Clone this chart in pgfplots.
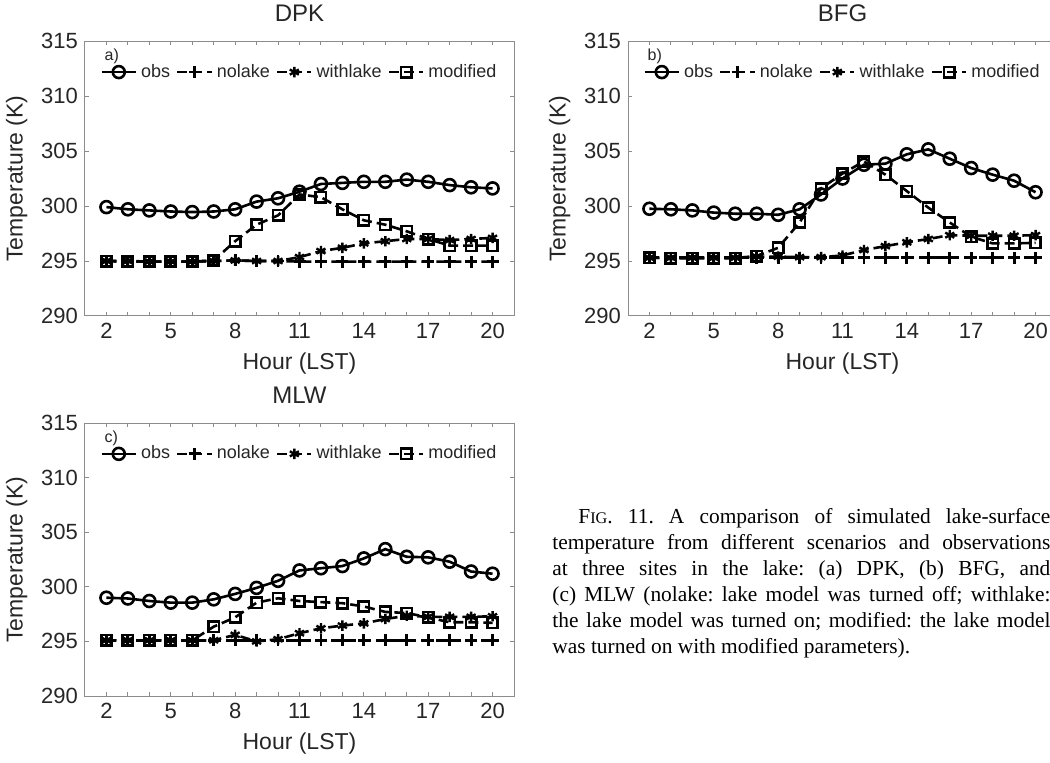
\documentclass[border=0pt]{standalone}
\usepackage{pgfplots}
\usepackage{pgfplotstable}
\pgfplotsset{compat=1.18}
\usepackage{fontspec}
\setmainfont{Liberation Sans}
\newfontfamily\capfont{Liberation Serif}

\pgfplotstableread{
h obs nolake withlake modified
2 299.9 295.0 295.0 295.0
3 299.7 294.95 295.0 294.95
4 299.6 294.95 294.95 294.95
5 299.5 294.95 294.95 294.95
6 299.45 294.95 294.95 294.95
7 299.5 295.0 295.0 295.05
8 299.7 295.05 295.05 296.8
9 300.4 295.0 295.0 298.3
10 300.7 295.0 295.0 299.15
11 301.3 294.95 295.35 301.05
12 302.0 294.95 295.9 300.8
13 302.1 294.95 296.2 299.7
14 302.2 294.95 296.6 298.7
15 302.2 294.95 296.8 298.3
16 302.4 294.95 297.0 297.7
17 302.2 294.95 297.0 297.0
18 301.9 294.95 296.9 296.4
19 301.7 294.95 297.0 296.4
20 301.6 294.95 297.1 296.4
}\dpk

\pgfplotstableread{
h obs nolake withlake modified
2 299.75 295.3 295.3 295.3
3 299.7 295.3 295.3 295.25
4 299.6 295.3 295.3 295.25
5 299.4 295.3 295.3 295.25
6 299.3 295.3 295.3 295.25
7 299.3 295.3 295.4 295.45
8 299.2 295.3 295.4 296.2
9 299.7 295.3 295.35 298.5
10 301.05 295.3 295.35 301.6
11 302.5 295.3 295.5 302.95
12 303.75 295.3 296.0 304.05
13 303.85 295.3 296.35 302.85
14 304.7 295.3 296.7 301.35
15 305.15 295.3 297.0 299.85
16 304.3 295.3 297.35 298.5
17 303.45 295.3 297.3 297.2
18 302.85 295.3 297.3 296.6
19 302.3 295.3 297.3 296.6
20 301.25 295.3 297.35 296.65
}\bfg

\pgfplotstableread{
h obs nolake withlake modified
2 299.0 295.1 295.1 295.1
3 298.93 295.1 295.1 295.1
4 298.7 295.1 295.1 295.1
5 298.55 295.1 295.1 295.1
6 298.55 295.1 295.1 295.1
7 298.85 295.1 295.1 296.35
8 299.35 295.1 295.6 297.2
9 299.9 295.1 295.0 298.55
10 300.55 295.1 295.2 298.95
11 301.5 295.1 295.75 298.7
12 301.7 295.1 296.2 298.6
13 301.9 295.1 296.45 298.5
14 302.6 295.1 296.65 298.2
15 303.45 295.1 297.05 297.7
16 302.75 295.1 297.35 297.6
17 302.7 295.1 297.25 297.2
18 302.3 295.1 297.25 296.75
19 301.4 295.1 297.25 296.75
20 301.2 295.1 297.3 296.7
}\mlw

\definecolor{axgray}{gray}{0.55}
\definecolor{labgray}{gray}{0.15}

\pgfplotsset{
  panel/.style={
    scale only axis, width=214.5pt, height=137.5pt,
    xmin=1, xmax=21, ymin=290, ymax=315,
    xtick={2,5,...,20},
    minor xtick={3,4,6,7,9,10,12,13,15,16,18,19},
    ytick={290,295,...,315},
    tick align=inside, major tick length=2pt, minor tick length=2pt,
    axis line style={axgray, line width=0.5pt},
    every tick/.style={axgray, line width=0.5pt},
    every minor tick/.style={axgray, line width=0.5pt},
    tick label style={font=\fontsize{11}{13}\selectfont, text=labgray},
    /pgf/number format/assume math mode=true,
    xlabel={Hour (LST)}, ylabel={Temperature (K)},
    label style={font=\fontsize{11.5}{13}\selectfont, text=labgray},
    title style={font=\fontsize{12}{14}\selectfont, text=labgray},
    legend columns=4,
    legend style={draw=none, fill=none, inner sep=0pt, at={(0.035,0.887)}, anchor=west,
      font=\fontsize{9}{10}\selectfont, text=labgray,
      /tikz/every even column/.append style={column sep=1pt}},
    legend cell align=left,
  },
  obs/.style={black, line width=1.3pt, solid, mark=o, mark size=3pt,
    mark options={solid, fill=white, line width=1.3pt}},
  nolake/.style={black, line width=1.3pt, dash pattern=on 5pt off 2.5pt, mark=+, mark size=3pt,
    mark options={solid, line width=1.4pt}},
  withlake/.style={black, line width=1.3pt, dash pattern=on 5pt off 2.5pt, mark=asterisk, mark size=2.6pt,
    mark options={solid, line width=1.2pt}},
  modified/.style={black, line width=1.3pt, dash pattern=on 5pt off 2.5pt, mark=square, mark size=2.6pt,
    mark options={solid, fill=white, line width=1.3pt}},
}

\begin{document}
\begin{tikzpicture}
% panel a
\begin{axis}[panel, at={(42.5pt,223pt)}, anchor=south west, title={DPK}]
\addplot[obs] table[x=h, y=obs] {\dpk};
\addplot[nolake] table[x=h, y=nolake] {\dpk};
\addplot[withlake] table[x=h, y=withlake] {\dpk};
\addplot[modified] table[x=h, y=modified] {\dpk};
\legend{obs, nolake, withlake, modified}
\node[font=\fontsize{8}{9}\selectfont, text=labgray, anchor=south west, inner sep=0pt] at (rel axis cs:0.045,0.915) {a)};
\end{axis}
% panel b
\begin{axis}[panel, at={(314pt,223pt)}, anchor=south west, title={BFG}]
\addplot[obs] table[x=h, y=obs] {\bfg};
\addplot[nolake] table[x=h, y=nolake] {\bfg};
\addplot[withlake] table[x=h, y=withlake] {\bfg};
\addplot[modified] table[x=h, y=modified] {\bfg};
\legend{obs, nolake, withlake, modified}
\node[font=\fontsize{8}{9}\selectfont, text=labgray, anchor=south west, inner sep=0pt] at (rel axis cs:0.045,0.915) {b)};
\end{axis}
% panel c
\begin{axis}[panel, at={(42.5pt,33pt)}, anchor=south west, height=136.5pt, title={MLW}]
\addplot[obs] table[x=h, y=obs] {\mlw};
\addplot[nolake] table[x=h, y=nolake] {\mlw};
\addplot[withlake] table[x=h, y=withlake] {\mlw};
\addplot[modified] table[x=h, y=modified] {\mlw};
\legend{obs, nolake, withlake, modified}
\node[font=\fontsize{8}{9}\selectfont, text=labgray, anchor=south west, inner sep=0pt] at (rel axis cs:0.045,0.915) {c)};
\end{axis}
% caption
\node[anchor=north west, inner sep=0pt, text width=249pt, align=justify,
      font=\capfont\fontsize{10.7}{13}\selectfont] at (276pt,127pt)
{\frenchspacing\hyphenpenalty=10000\exhyphenpenalty=10000\tolerance=9999\hbadness=10000
\hspace*{13pt}F{\fontsize{8.1}{9}\selectfont IG}. 11. A comparison of simulated lake-surface\linebreak
temperature from different scenarios and observations\linebreak
at three sites in the lake: (a) DPK, (b) BFG, and\linebreak
(c) MLW (nolake: lake model was turned off; withlake:\linebreak
the lake model was turned on; modified: the lake model\linebreak
was turned on with modified parameters).};
\pgfresetboundingbox
\useasboundingbox (0,0) rectangle (525pt,381pt);
\end{tikzpicture}
\end{document}
